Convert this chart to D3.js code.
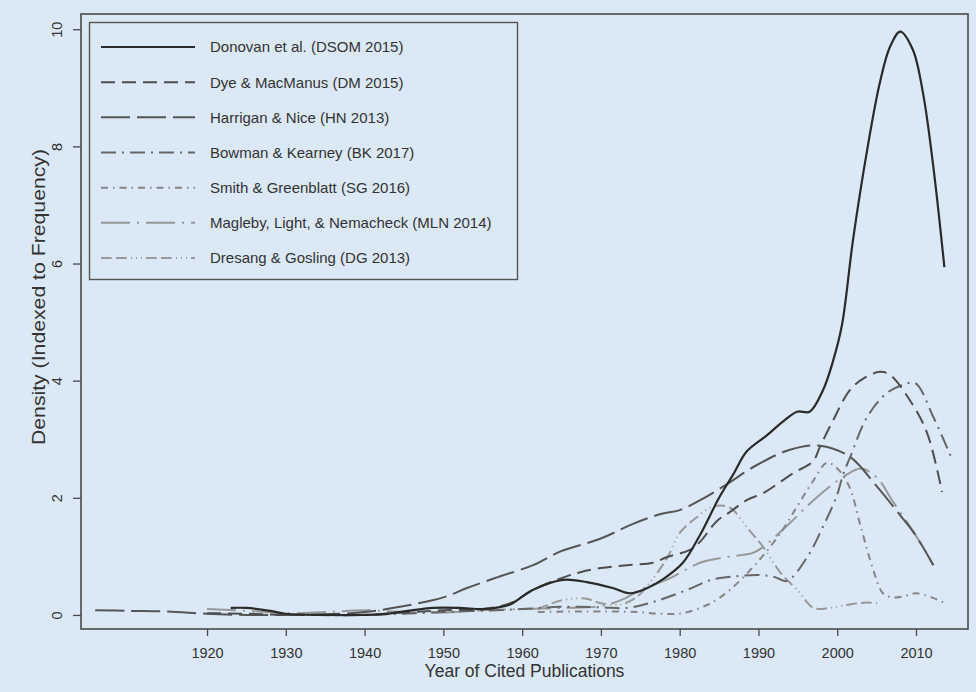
<!DOCTYPE html>
<html>
<head>
<meta charset="utf-8">
<script src="https://cdn.jsdelivr.net/npm/d3@7"></script>
<style>
  html, body { margin: 0; padding: 0; background: #dbe8f5; }
  svg { display: block; font-family: "Liberation Sans", Arial, sans-serif; }
</style>
</head>
<body>
<svg id="chart" width="976" height="692"></svg>
<script>
// density curves as [year, density]
const donovan = [[1923,0.12],[1925,0.12],[1928,0.07],[1930,0.02],[1935,0.0],[1940,0.0],[1942,0.01],[1945,0.06],[1948.7,0.12],[1952,0.12],[1955,0.1],[1957,0.13],[1958.5,0.18],[1961.4,0.43],[1965.2,0.6],[1968.2,0.56],[1971.5,0.46],[1973.7,0.37],[1975.9,0.46],[1978,0.62],[1980.4,0.89],[1982.6,1.37],[1985,2.0],[1986.8,2.4],[1988.5,2.79],[1991.1,3.07],[1993.1,3.3],[1994.9,3.47],[1996.5,3.47],[1998.2,3.84],[1999.5,4.35],[2000.6,4.95],[2002,6.4],[2003.8,7.94],[2005.4,9.08],[2006.7,9.7],[2008,9.96],[2009.6,9.65],[2010.9,8.9],[2012.2,7.65],[2013.6,5.94]];
const dyeMacManus = [[1920,0.03],[1925,0.02],[1930,0.0],[1935,0.0],[1940,0.0],[1945,0.04],[1950,0.08],[1955,0.1],[1958.5,0.2],[1961.4,0.43],[1964.8,0.62],[1967.4,0.73],[1970,0.8],[1973.3,0.85],[1976.6,0.89],[1978.4,0.99],[1981.3,1.11],[1982.6,1.25],[1984.7,1.6],[1986.4,1.76],[1988.5,1.96],[1990.6,2.08],[1994.4,2.42],[1996.9,2.62],[1997.8,2.87],[1999.5,3.33],[2001.6,3.84],[2003.5,4.05],[2005.4,4.15],[2006.7,4.1],[2009.2,3.67],[2011.4,3.11],[2013.3,2.1]];
const harriganNice = [[1905.8,0.08],[1910,0.07],[1915,0.06],[1920,0.02],[1925,0.0],[1930,0.0],[1935,0.01],[1940,0.05],[1944.5,0.14],[1950,0.3],[1953,0.46],[1957,0.65],[1961.4,0.85],[1964.8,1.08],[1969.9,1.3],[1974,1.55],[1977.5,1.72],[1980,1.79],[1982.6,1.96],[1985.5,2.19],[1989.8,2.56],[1994,2.82],[1997.8,2.89],[2001.6,2.7],[2005,2.2],[2008,1.7],[2010,1.35],[2012.2,0.85]];
const bowmanKearney = [[1930,0.0],[1940,0.0],[1950,0.05],[1960,0.1],[1964.8,0.14],[1970,0.13],[1973.3,0.12],[1976.6,0.22],[1981,0.43],[1984,0.6],[1987,0.66],[1990.2,0.68],[1992,0.65],[1993.6,0.58],[1996.2,0.99],[1998.2,1.51],[1999.9,2.02],[2000.8,2.42],[2001.6,2.68],[2003.8,3.38],[2006.3,3.79],[2008.4,3.93],[2009.9,3.96],[2012.2,3.38],[2014.6,2.65]];
const smithGreenblatt = [[1962,0.05],[1968,0.06],[1974.6,0.05],[1977.5,0.02],[1980.4,0.03],[1983.5,0.17],[1984.7,0.26],[1986.4,0.43],[1989.8,0.89],[1992.8,1.4],[1994.9,1.85],[1997,2.3],[1998.7,2.6],[2000,2.5],[2001.5,2.2],[2003,1.5],[2004.5,0.8],[2005.8,0.37],[2007,0.3],[2008.5,0.32],[2010,0.37],[2012,0.3],[2013.7,0.2]];
const maglebyLightNemacheck = [[1920,0.1],[1925,0.07],[1930,0.03],[1935,0.05],[1940,0.08],[1945,0.05],[1950,0.04],[1955,0.08],[1960,0.1],[1965,0.12],[1970,0.15],[1973,0.28],[1975,0.43],[1978.8,0.63],[1982.6,0.89],[1986,0.99],[1989.3,1.06],[1990.6,1.16],[1994,1.57],[1997,1.96],[2000.8,2.36],[2003,2.5],[2005,2.35],[2007,1.95],[2010,1.35],[2012.2,0.85]];
const dresangGosling = [[1962,0.1],[1965,0.25],[1968,0.28],[1970,0.2],[1972.5,0.18],[1974.5,0.3],[1976.2,0.55],[1978.4,0.97],[1980,1.4],[1982,1.65],[1984.2,1.85],[1986.4,1.83],[1988.5,1.5],[1990.6,1.16],[1992.8,0.72],[1994.9,0.43],[1997,0.12],[1999,0.12],[2001.6,0.18],[2003.5,0.21],[2005.2,0.2]];

const seriesNames = [
  'Donovan et al. (DSOM 2015)',
  'Dye & MacManus (DM 2015)',
  'Harrigan & Nice (HN 2013)',
  'Bowman & Kearney (BK 2017)',
  'Smith & Greenblatt (SG 2016)',
  'Magleby, Light, & Nemacheck (MLN 2014)',
  'Dresang & Gosling (DG 2013)'
];
const seriesData = [donovan, dyeMacManus, harriganNice, bowmanKearney,
  smithGreenblatt, maglebyLightNemacheck, dresangGosling];

const xTicks = [1920, 1930, 1940, 1950, 1960, 1970, 1980, 1990, 2000, 2010];
const yTicks = [0, 2, 4, 6, 8, 10];

// line styles (R style lty look-alikes)
const styles = [
  { color: '#2a2a2a', dash: null },
  { color: '#4e4e4e', dash: '14,7' },
  { color: '#555555', dash: '29,7' },
  { color: '#666666', dash: '15,6,2,6' },
  { color: '#858585', dash: '7,5,1.5,5' },
  { color: '#989898', dash: '29,7,2,7' },
  { color: '#999999', dash: '10.7,4.3,10.7,4.3,1,4,1,4,1,4' }
];

const svg = d3.select('#chart');
const box = { left: 81, right: 968, top: 14, bottom: 629 };

const x = d3.scaleLinear().domain([1904, 2016.6]).range([box.left, box.right]);
const y = d3.scaleLinear().domain([-0.24, 10.26]).range([box.bottom, box.top]);

const line = d3.line()
  .x(function(d) { return x(d[0]); })
  .y(function(d) { return y(d[1]); })
  .curve(d3.curveCatmullRom.alpha(0.5));

// curves, lightest first so the solid one sits on top
const order = [6, 5, 4, 3, 2, 1, 0];
svg.append('g')
  .attr('class', 'curves')
  .selectAll('path')
  .data(order)
  .enter()
  .append('path')
  .attr('d', function(i) { return line(seriesData[i]); })
  .attr('fill', 'none')
  .attr('stroke', function(i) { return styles[i].color; })
  .attr('stroke-width', function(i) { return i === 0 ? 2.2 : 2; })
  .attr('stroke-dasharray', function(i) { return styles[i].dash; });

// plot frame
svg.append('rect')
  .attr('x', box.left)
  .attr('y', box.top)
  .attr('width', box.right - box.left)
  .attr('height', box.bottom - box.top)
  .attr('fill', 'none')
  .attr('stroke', '#4a4a4a')
  .attr('stroke-width', 1.6);

// x axis
const xAxis = svg.append('g')
  .attr('transform', 'translate(0,' + box.bottom + ')')
  .call(d3.axisBottom(x).tickValues(xTicks).tickSize(7).tickPadding(12).tickFormat(d3.format('d')));
xAxis.select('.domain').remove();
xAxis.selectAll('line').attr('stroke', '#4a4a4a').attr('stroke-width', 1.3);
xAxis.selectAll('text')
  .attr('fill', '#333')
  .style('font-size', '14.5px');

// y axis, labels turned like R's default
const yAxis = svg.append('g')
  .attr('transform', 'translate(' + box.left + ',0)')
  .call(d3.axisLeft(y).tickValues(yTicks).tickSize(8).tickFormat(d3.format('d')));
yAxis.select('.domain').remove();
yAxis.selectAll('line').attr('stroke', '#4a4a4a').attr('stroke-width', 1.3);
yAxis.selectAll('text')
  .attr('x', null)
  .attr('dy', '0.36em')
  .attr('fill', '#333')
  .attr('text-anchor', 'middle')
  .attr('transform', 'translate(-24,0) rotate(-90)')
  .style('font-size', '14.5px');

// axis titles
svg.append('text')
  .attr('x', (box.left + box.right) / 2)
  .attr('y', 677)
  .attr('text-anchor', 'middle')
  .attr('fill', '#333')
  .style('font-size', '17.5px')
  .text('Year of Cited Publications');

// the source figure is a little stretched vertically, so the rotated title runs longer
svg.append('text')
  .attr('transform', 'translate(45,297) rotate(-90) scale(1.18,1)')
  .attr('text-anchor', 'middle')
  .attr('fill', '#333')
  .style('font-size', '18px')
  .text('Density (Indexed to Frequency)');

// legend
const legend = svg.append('g').attr('class', 'legend');
legend.append('rect')
  .attr('x', 89.5)
  .attr('y', 22.5)
  .attr('width', 428)
  .attr('height', 257)
  .attr('fill', 'none')
  .attr('stroke', '#555')
  .attr('stroke-width', 1.4);

const rowY = d3.scaleLinear().domain([0, 6]).range([47, 258]);
const item = legend.selectAll('.legend_item')
  .data(d3.range(seriesNames.length))
  .enter()
  .append('g')
  .attr('class', 'legend_item')
  .attr('transform', function(i) { return 'translate(0,' + rowY(i) + ')'; });

item.append('line')
  .attr('x1', 101)
  .attr('x2', 195)
  .attr('stroke', function(i) { return styles[i].color; })
  .attr('stroke-width', function(i) { return i === 0 ? 2.2 : 2; })
  .attr('stroke-dasharray', function(i) { return styles[i].dash; });

item.append('text')
  .attr('x', 210)
  .attr('dy', '0.36em')
  .attr('fill', '#333')
  .style('font-size', '15px')
  .text(function(i) { return seriesNames[i]; });
</script>
</body>
</html>
